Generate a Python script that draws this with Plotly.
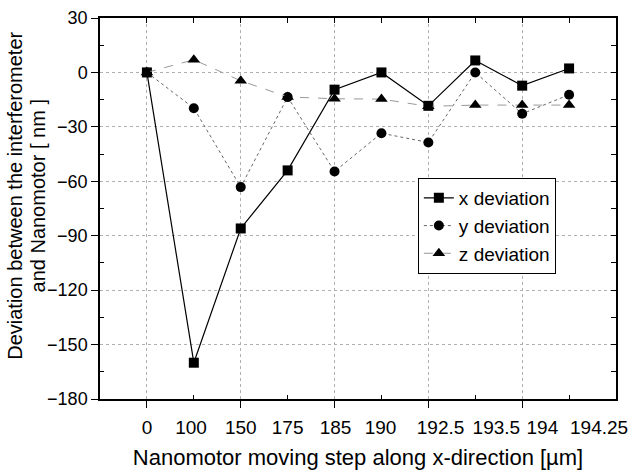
import plotly.graph_objects as go

steps = ["0", "100", "150", "175", "185", "190", "192.5", "193.5", "194", "194.25"]
idx = list(range(len(steps)))
label_pos = [0, 0.94, 2.0, 3.0, 4.02, 4.98, 6.26, 7.45, 8.43, 9.64]

x_dev = [0, -160, -86, -54, -9.5, 0, -18.4, 6.6, -7.3, 2.2]
y_dev = [0, -19.7, -63.2, -13.6, -54.6, -33.5, -38.6, 0, -22.8, -12.3]
z_dev = [0, 7, -4.6, -13.5, -14.5, -14.7, -18.7, -18, -18, -18]

y_title_lines = ["Deviation between the interferometer", "and Nanomotor [ nm ]"]

FONT = "Liberation Sans, Arial, sans-serif"

fig = go.Figure()
fig.add_trace(go.Scatter(x=idx, y=x_dev, name="x deviation", mode="lines+markers",
                         line=dict(color="black", width=1.2),
                         marker=dict(symbol="square", size=10, color="black")))
fig.add_trace(go.Scatter(x=idx, y=y_dev, name="y deviation", mode="lines+markers",
                         line=dict(color="#666", width=1, dash="dot"),
                         marker=dict(symbol="circle", size=10, color="black")))
fig.add_trace(go.Scatter(x=idx, y=z_dev, name="z deviation", mode="lines+markers",
                         line=dict(color="#999", width=1, dash="dash"),
                         marker=dict(symbol="triangle-up", size=11, color="black")))
# empty helper traces so the overlay axes (labels, top and right ticks) are drawn
for xa, ya in (("x2", "y"), ("x3", "y"), ("x", "y2")):
    fig.add_trace(go.Scatter(x=[None], y=[None], xaxis=xa, yaxis=ya, mode="markers",
                             showlegend=False, hoverinfo="skip"))

grid = dict(showgrid=True, gridcolor="#b0b0b0", gridwidth=1, griddash="dot")

fig.update_layout(
    width=635, height=471,
    margin=dict(l=100, r=19, t=18, b=72),
    paper_bgcolor="white", plot_bgcolor="white",
    font=dict(family=FONT, size=18, color="black"),
    showlegend=True,
    legend=dict(x=0.616, y=0.58, xanchor="left", yanchor="top",
                bgcolor="white", bordercolor="black", borderwidth=1,
                font=dict(size=19), tracegroupgap=0, itemwidth=30),
    xaxis=dict(range=[-1, 10], tickmode="array", tickvals=[0, 2, 4, 6, 8],
               showticklabels=False, ticks="outside", ticklen=7, tickwidth=1,
               tickcolor="black", showline=True, linecolor="black", linewidth=1.5,
               mirror=True, zeroline=False,
               minor=dict(tickmode="array", tickvals=[1, 3, 5, 7, 9], ticks="inside",
                          ticklen=4, tickcolor="black", showgrid=False),
               **grid),
    xaxis2=dict(overlaying="x", anchor="y", side="bottom", range=[-1, 10],
                tickmode="array", tickvals=label_pos, ticktext=steps,
                ticks="outside", ticklen=11, tickcolor="rgba(0,0,0,0)",
                showline=False, showgrid=False, zeroline=False,
                tickfont=dict(size=19), automargin=False,
                title=dict(text="Nanomotor moving step along x-direction [µm]",
                           font=dict(size=22), standoff=12)),
    xaxis3=dict(overlaying="x", anchor="y", side="top", range=[-1, 10],
                tickmode="array", tickvals=list(range(-1, 11)), ticks="inside",
                ticklen=5, tickcolor="black", showticklabels=False,
                showline=False, showgrid=False, zeroline=False),
    yaxis=dict(range=[-180, 30], tickmode="array",
               tickvals=[30, 0, -30, -60, -90, -120, -150, -180],
               ticks="outside", ticklen=7, tickcolor="black",
               showline=True, linecolor="black", linewidth=1.5, mirror=True,
               zeroline=False, tickfont=dict(size=18), automargin=False,
               minor=dict(tickmode="array", tickvals=[15, -15, -45, -75, -105, -135, -165],
                          ticks="inside", ticklen=4, tickcolor="black", showgrid=False),
               **grid),
    yaxis2=dict(overlaying="y", anchor="x", side="right", range=[-180, 30],
                tickmode="array", tickvals=list(range(-180, 31, 15)), ticks="inside",
                ticklen=5, tickcolor="black", showticklabels=False,
                showline=False, showgrid=False, zeroline=False),
    annotations=[
        dict(text=y_title_lines[0], xref="paper", yref="paper", x=-0.165, y=0.533,
             xanchor="center", yanchor="middle", textangle=-90,
             showarrow=False, font=dict(size=20)),
        dict(text=y_title_lines[1], xref="paper", yref="paper", x=-0.121, y=0.533,
             xanchor="center", yanchor="middle", textangle=-90,
             showarrow=False, font=dict(size=20)),
    ],
)

fig.write_html("out.html")
